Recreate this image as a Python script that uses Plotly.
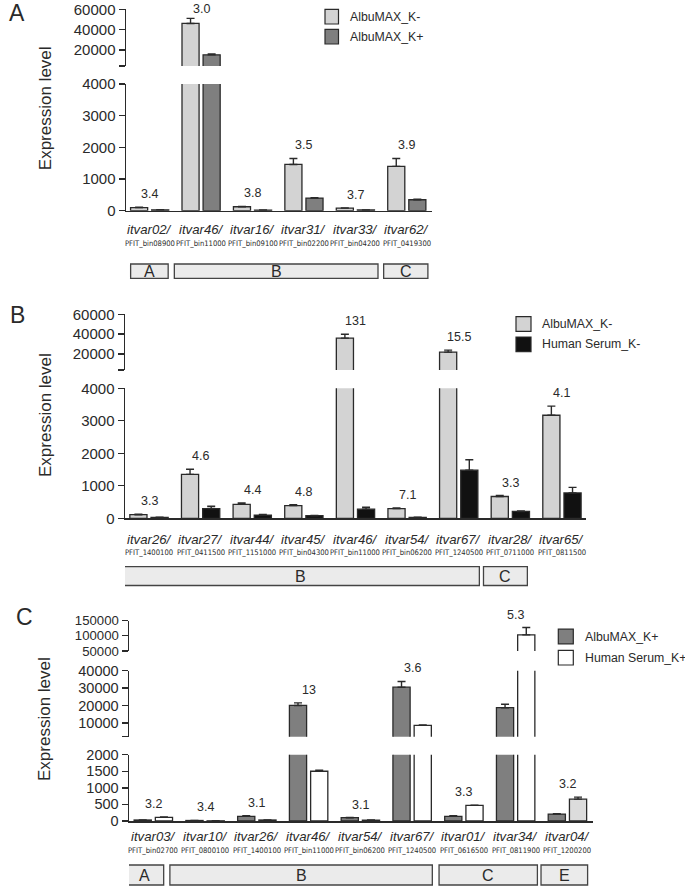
import plotly.graph_objects as go

# ---------------- DATA ----------------
# Panel A
A_var = ["itvar02/", "itvar46/", "itvar16/", "itvar31/", "itvar33/", "itvar62/"]
A_pfit = ["PFIT_bin08900", "PFIT_bin11000", "PFIT_bin09100", "PFIT_bin02200", "PFIT_bin04200", "PFIT_0419300"]
A_kminus = [100, 46000, 125, 1460, 80, 1400]
A_kminus_err = [10, 5000, 10, 190, 8, 250]
A_kplus = [28, 15000, 20, 400, 22, 345]
A_kplus_err = [4, 1000, 3, 10, 3, 20]
A_fold = ["3.4", "3.0", "3.8", "3.5", "3.7", "3.9"]
A_clade = ["A", "B", "B", "B", "B", "C"]

# Panel B
B_var = ["itvar26/", "itvar27/", "itvar44/", "itvar45/", "itvar46/", "itvar54/", "itvar67/", "itvar28/", "itvar65/"]
B_pfit = ["PFIT_1400100", "PFIT_0411500", "PFIT_1151000", "PFIT_bin04300", "PFIT_bin11000",
          "PFIT_bin06200", "PFIT_1240500", "PFIT_0711000", "PFIT_0811500"]
B_albumax = [110, 1350, 430, 390, 36000, 300, 22000, 670, 3170]
B_albumax_err = [15, 160, 40, 30, 4000, 15, 2000, 30, 280]
B_serum = [25, 300, 100, 80, 280, 30, 1480, 210, 780]
B_serum_err = [5, 70, 20, 10, 60, 5, 320, 15, 170]
B_fold = ["3.3", "4.6", "4.4", "4.8", "131", "7.1", "15.5", "3.3", "4.1"]
B_clade = ["B", "B", "B", "B", "B", "B", "B", "C", ""]

# Panel C
C_var = ["itvar03/", "itvar10/", "itvar26/", "itvar46/", "itvar54/", "itvar67/", "itvar01/", "itvar34/", "itvar04/"]
C_pfit = ["PFIT_bin02700", "PFIT_0800100", "PFIT_1400100", "PFIT_bin11000", "PFIT_bin06200",
          "PFIT_1240500", "PFIT_0616500", "PFIT_0811900", "PFIT_1200200"]
C_albumax = [30, 15, 140, 20000, 100, 30500, 140, 18700, 210]
C_albumax_err = [3, 2, 20, 1500, 5, 3300, 20, 2000, 8]
C_serum = [110, 5, 30, 1500, 25, 8500, 470, 103000, 660]
C_serum_err = [15, 1, 3, 30, 3, 250, 5, 24000, 60]
C_fold = ["3.2", "3.4", "3.1", "13", "3.1", "3.6", "3.3", "5.3", "3.2"]
C_clade = ["A", "B", "B", "B", "B", "B", "C", "C", "E"]

# ---------------- STYLE / LAYOUT ----------------
W, H = 685, 888
FONT = "Liberation Sans, Arial, sans-serif"
NARROW = "Liberation Sans Narrow, DejaVu Sans Condensed, Liberation Sans, Arial, sans-serif"
INK = "#2a2a2a"
LIGHT = "#d3d3d3"
DARK = "#7f7f7f"
BLACK = "#111111"
WHITE = "#ffffff"


def px(x):
    return x / W


def py(y):
    return 1 - y / H


# segment spec: (axis ref, value range, (pixel top, pixel bottom), tick values, tick texts, tick font size)
panels = [
    dict(letter="A", xaxis="xaxis", xref="x", xdom=(126, 432), xrange=(-0.46, 5.49),
         var=A_var, pfit=A_pfit, fold=A_fold, clade=A_clade,
         series=[("AlbuMAX_K-", A_kminus, A_kminus_err, [LIGHT] * 6),
                 ("AlbuMAX_K+", A_kplus, A_kplus_err, [DARK] * 6)],
         segs=[("y", (0, 4000), (84, 210.7), [0, 1000, 2000, 3000, 4000], None, 15),
               ("y2", (4000, 60000), (9.3, 66), [4000, 20000, 40000, 60000],
                ["", "20000", "40000", "60000"], 15)],
         labrows=(229.5, 243.5), boxrow=(264, 278.3),
         boxes=[(-0.37, 0.36), (0.48, 4.44), (4.55, 5.41)],
         letterpos=(17, 13), titlepos=(45.7, 108.5),
         legend=dict(sq=(325, 338.5), rows=(16.7, 36.7), tx=348,
                     cols=[LIGHT, DARK], names=["AlbuMAX_K-", "AlbuMAX_K+"])),
    dict(letter="B", xaxis="xaxis2", xref="x2", xdom=(125, 585.7), xrange=(-0.465, 8.46),
         var=B_var, pfit=B_pfit, fold=B_fold, clade=B_clade,
         series=[("AlbuMAX_K-", B_albumax, B_albumax_err, [LIGHT] * 9),
                 ("Human Serum_K-", B_serum, B_serum_err, [BLACK] * 9)],
         segs=[("y3", (0, 4000), (388.3, 518.3), [0, 1000, 2000, 3000, 4000], None, 15),
               ("y4", (4000, 60000), (314.3, 370), [4000, 20000, 40000, 60000],
                ["", "20000", "40000", "60000"], 15)],
         labrows=(539.5, 552), boxrow=(566.7, 585.5),
         boxes=[(-0.53, 6.40), (6.48, 7.33)],
         letterpos=(17, 314.5), titlepos=(45, 415),
         legend=dict(sq=(516, 531), rows=(324, 344.3), tx=540,
                     cols=[LIGHT, BLACK], names=["AlbuMAX_K-", "Human Serum_K-"])),
    dict(letter="C", xaxis="xaxis3", xref="x3", xdom=(129, 593.3), xrange=(-0.47, 8.5),
         var=C_var, pfit=C_pfit, fold=C_fold, clade=C_clade,
         series=[("AlbuMAX_K+", C_albumax, C_albumax_err, [DARK] * 9),
                 ("Human Serum_K+", C_serum, C_serum_err, [WHITE] * 8 + ["#dcdcdc"])],
         segs=[("y5", (0, 2000), (754.7, 821), [0, 500, 1000, 1500, 2000], None, 14.5),
               ("y6", (2000, 40000), (670.7, 736.7), [2000, 10000, 20000, 30000, 40000],
                ["", "10000", "20000", "30000", "40000"], 14.5),
               ("y7", (50000, 150000), (620.5, 651), [50000, 100000, 150000], None, 13.2)],
         labrows=(836, 850), boxrow=(865, 885),
         boxes=[(-0.53, 0.20), (0.32, 5.39), (5.52, 7.42), (7.49, 8.39)],
         letterpos=(25, 617), titlepos=(44, 719),
         legend=dict(sq=(558.3, 573.3), rows=(636.5, 657.7), tx=582.7,
                     cols=[DARK, WHITE], names=["AlbuMAX_K+", "Human Serum_K+"])),
]

fig = go.Figure()
annotations = []
shapes = []
layout = dict(
    width=W, height=H, autosize=False,
    margin=dict(l=0, r=0, t=0, b=0, pad=0, autoexpand=False),
    paper_bgcolor="white", plot_bgcolor="white", showlegend=False,
    barmode="group", bargap=0.18, bargroupgap=0.19,
    font=dict(family=FONT, color=INK),
)


def axis_key(ref):
    return "yaxis" + ref[1:] if ref != "y" else "yaxis"


def label(x, ypix, text, size, xref="paper", family=FONT, xanchor="center", **kw):
    d = dict(x=x, y=py(ypix), xref=xref, yref="paper", text=text, showarrow=False,
             xanchor=xanchor, yanchor="middle", font=dict(size=size, family=family, color=INK))
    d.update(kw)
    annotations.append(d)


for p in panels:
    n = len(p["var"])
    xs = list(range(n))
    bottom_ref = p["segs"][0][0]
    layout[p["xaxis"]] = dict(
        domain=[px(p["xdom"][0]), px(p["xdom"][1])], range=list(p["xrange"]),
        anchor=bottom_ref, showline=True, linecolor=INK, linewidth=1.5, automargin=False,
        showticklabels=False, ticks="", showgrid=False, zeroline=False, fixedrange=True,
    )
    for ref, rng, (ptop, pbot), tv, tt, fs in p["segs"]:
        layout[axis_key(ref)] = dict(
            domain=[py(pbot), py(ptop)], range=list(rng), anchor=p["xref"], automargin=False,
            showline=True, linecolor=INK, linewidth=1.5,
            ticks="outside", ticklen=6, tickwidth=1.4, tickcolor=INK,
            tickvals=tv, ticktext=tt if tt else [str(v) for v in tv],
            tickfont=dict(size=fs, family=FONT, color=INK),
            showgrid=False, zeroline=False, fixedrange=True,
        )
        for name, vals, errs, cols in p["series"]:
            # only bars that reach into this axis segment are drawn on it
            yv = [v if v > rng[0] else None for v in vals]
            ev = [e if v > rng[0] else 0 for v, e in zip(vals, errs)]
            fig.add_trace(go.Bar(
                x=xs, y=yv, name=name, xaxis=p["xref"], yaxis=ref,
                marker=dict(color=cols, line=dict(color=INK, width=1.3)),
                error_y=dict(type="data", array=ev, arrayminus=[0] * n, symmetric=False,
                             color=INK, thickness=1.4, width=4),
                hoverinfo="skip",
            ))

    # fold change labels above the tallest bar (incl. error) of each group
    for i in range(n):
        top = max(s[1][i] + s[2][i] for s in p["series"])
        seg = p["segs"][-1]
        for s in p["segs"]:
            if top <= s[1][1]:
                seg = s
                break
        (r0, r1), (pt, pb) = seg[1], seg[2]
        ypix = pb - (top - r0) / (r1 - r0) * (pb - pt)
        label(i, max(ypix - 13, 9.5), p["fold"][i], 12.5, xref=p["xref"])

    # category labels
    for i in range(n):
        label(i, p["labrows"][0], "<i>%s</i>" % p["var"][i], 13.2, xref=p["xref"])
        label(i, p["labrows"][1], p["pfit"][i], 7.6, xref=p["xref"], family=NARROW)

    # clade boxes (contiguous runs of the clade list)
    runs = []
    for i, c in enumerate(p["clade"]):
        if not c:
            continue
        if runs and runs[-1][0] == c and runs[-1][2] == i - 1:
            runs[-1][2] = i
        else:
            runs.append([c, i, i])
    for (c, a, b), (x0, x1) in zip(runs, p["boxes"]):
        shapes.append(dict(type="rect", xref=p["xref"], yref="paper", x0=x0, x1=x1,
                           y0=py(p["boxrow"][1]), y1=py(p["boxrow"][0]),
                           fillcolor="#ebebeb", line=dict(color="#444", width=1.3), layer="above"))
        label((x0 + x1) / 2, sum(p["boxrow"]) / 2, c, 16, xref=p["xref"])

    # panel letter and y title
    label(px(p["letterpos"][0]), p["letterpos"][1], p["letter"], 23)
    label(px(p["titlepos"][0]), p["titlepos"][1], "Expression level", 17, textangle=-90)

    # legend
    lg = p["legend"]
    for row, col, name in zip(lg["rows"], lg["cols"], lg["names"]):
        shapes.append(dict(type="rect", xref="paper", yref="paper",
                           x0=px(lg["sq"][0]), x1=px(lg["sq"][1]), y0=py(row + 7.3), y1=py(row - 7.3),
                           fillcolor=col, line=dict(color=INK, width=1.2)))
        label(px(lg["tx"]), row, name, 12.3, xanchor="left")

layout["annotations"] = annotations
layout["shapes"] = shapes
fig.update_layout(**layout)
fig.write_html(
    "out.html",
    config={"displayModeBar": False, "staticPlot": True},
    post_script="document.body.style.margin='0';document.body.style.overflow='hidden';",
)
